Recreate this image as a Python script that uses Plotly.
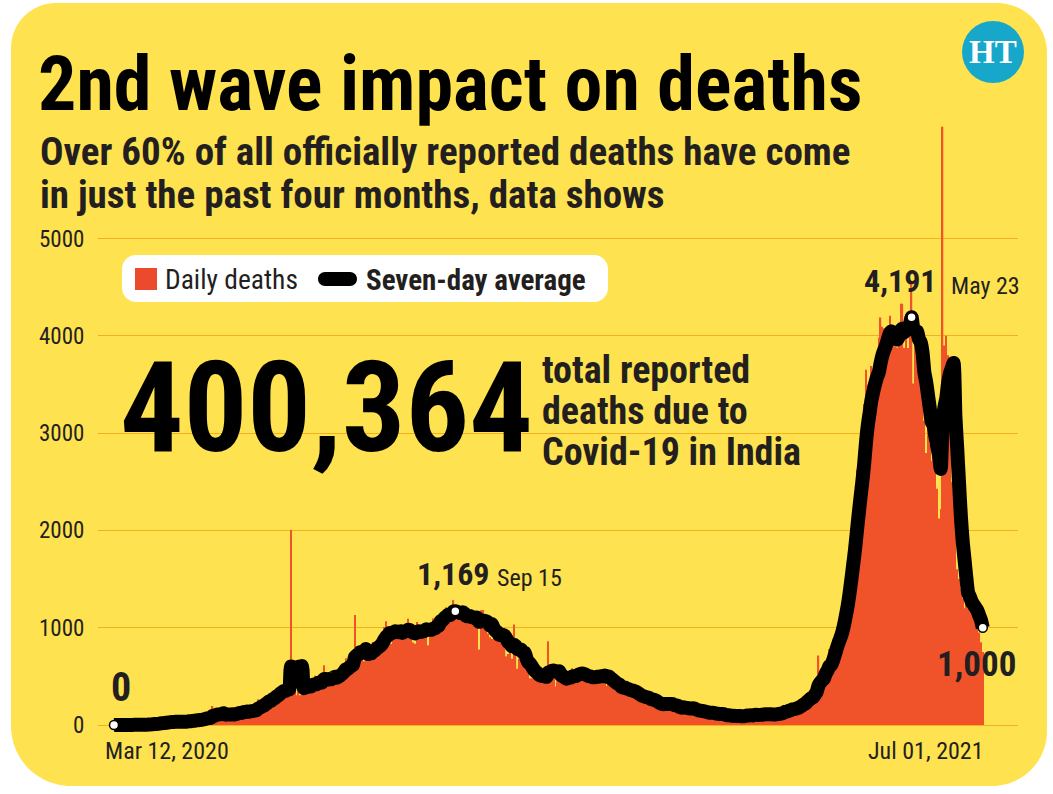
import pandas as pd
import plotly.graph_objects as go

W, H = 1053, 794

# ---------------- data (daily reported deaths, India) ----------------
START_DATE = "2020-03-12"
deaths_2020_03 = [0, 1, 1, 0, 0, 1, 0, 1, 1, 1, 3, 2, 1, 2, 3, 4, 6, 4, 4, 8]
deaths_2020_04 = [12, 15, 16, 13, 17, 24, 27, 20, 33, 32, 33, 40, 35, 31, 26, 38, 23, 43, 36, 31,
                  47, 56, 41, 37, 57, 60, 46, 60, 66, 73]
deaths_2020_05 = [72, 93, 83, 68, 195, 89, 126, 103, 95, 128, 111, 97, 87, 134, 100, 120, 103, 157, 120, 134,
                  140, 148, 132, 137, 147, 154, 146, 170, 175, 265, 193]
deaths_2020_06 = [230, 204, 259, 260, 290, 300, 310, 300, 320, 340, 380, 396, 386, 325, 380, 343, 2003, 336, 375, 306,
                  445, 306, 465, 418, 410, 384, 407, 380, 418, 507]
deaths_2020_07 = [434, 507, 379, 442, 613, 425, 467, 482, 475, 487, 519, 551, 500, 553, 582, 606, 687, 543, 681, 587,
                  648, 1130, 740, 757, 705, 708, 654, 775, 768, 779, 764]
deaths_2020_08 = [853, 771, 803, 857, 886, 933, 1007, 1065, 871, 1007, 834, 942, 1007, 997, 1013, 944, 876, 941, 977, 1092,
                  983, 912, 848, 836, 1059, 1023, 1021, 1022, 948, 971, 819]
deaths_2020_09 = [1045, 1025, 1096, 1065, 1089, 1016, 1133, 1115, 1172, 1209, 1197, 1054, 1136, 1283, 1132, 1132, 1168, 1130, 1133, 1053,
                  1085, 1129, 1141, 1089, 1124, 1039, 1124, 776, 1179, 1181]
deaths_2020_10 = [1069, 1095, 940, 903, 884, 906, 986, 971, 895, 925, 918, 816, 706, 730, 895, 680, 1033, 837, 579, 680,
                  720, 700, 660, 610, 560, 480, 480, 517, 543, 551, 470]
deaths_2020_11 = [496, 470, 449, 490, 860, 577, 559, 514, 395, 448, 512, 547, 554, 435, 435, 447, 474, 584, 576, 562,
                  511, 501, 491, 480, 524, 518, 485, 496, 443, 482]
deaths_2020_12 = [501, 540, 526, 524, 501, 482, 402, 512, 442, 411, 416, 387, 391, 336, 355, 387, 415, 347, 342, 334,
                  301, 313, 336, 333, 264, 251, 279, 251, 286, 299, 256]
deaths_2021_01 = [217, 224, 212, 170, 201, 251, 220, 228, 234, 212, 161, 201, 175, 202, 188, 145, 162, 202, 175, 151,
                  181, 162, 163, 152, 131, 127, 123, 153, 151, 120, 127]
deaths_2021_02 = [94, 107, 137, 124, 108, 119, 106, 84, 101, 88, 94, 107, 100, 81, 87, 94, 88, 97, 78, 101,
                  118, 103, 102, 101, 87, 113, 113, 106]
deaths_2021_03 = [106, 111, 118, 107, 117, 113, 97, 99, 108, 131, 126, 134, 138, 157, 161, 131, 188, 172, 188, 154,
                  197, 199, 212, 275, 257, 271, 291, 312, 312, 271, 459]
deaths_2021_04 = [469, 714, 513, 478, 446, 630, 685, 780, 794, 839, 904, 879, 1027, 1038, 1185, 1341, 1501, 1619, 1761, 2023,
                  2104, 2263, 2624, 2767, 2812, 2900, 3300, 3650, 3498, 3523]
deaths_2021_05 = [3689, 3417, 3449, 3780, 3980, 4187, 4092, 4077, 3754, 3876, 4205, 4120, 4000, 3890, 3880, 3960, 4329, 4329, 3874, 4209,
                  3874, 4194, 4528, 3511, 4157, 3847, 3660, 3620, 3460, 3128, 2795]
deaths_2021_06 = [3207, 2887, 2713, 3380, 2677, 2427, 2123, 2219, 6148, 3900, 4000, 3800, 3100, 2500, 2600, 2300, 1600, 1500, 1400, 1300,
                  1200, 1300, 1200, 1300, 1150, 1200, 1100, 1000, 950, 850]
deaths_2021_07 = [750]

Y_TICKS = [0, 1000, 2000, 3000, 4000, 5000]
HIGHLIGHT_DATES = ["2020-03-12", "2020-09-15", "2021-05-23", "2021-07-01"]
TITLE = "2nd wave impact on deaths"
SUBTITLE_1 = "Over 60% of all officially reported deaths have come"
SUBTITLE_2 = "in just the past four months, data shows"
TOTAL = "400,364"
TOTAL_TEXT = ["total reported", "deaths due to", "Covid-19 in India"]

# ---------------- derived ----------------
daily = (deaths_2020_03 + deaths_2020_04 + deaths_2020_05 + deaths_2020_06 + deaths_2020_07 +
         deaths_2020_08 + deaths_2020_09 + deaths_2020_10 + deaths_2020_11 + deaths_2020_12 +
         deaths_2021_01 + deaths_2021_02 + deaths_2021_03 + deaths_2021_04 + deaths_2021_05 +
         deaths_2021_06 + deaths_2021_07)
dates = pd.date_range(START_DATE, periods=len(daily), freq="D")
series = pd.Series(daily, index=dates)
avg7 = series.rolling(7, min_periods=1).mean()
hl = pd.to_datetime(HIGHLIGHT_DATES)
hl_vals = avg7.loc[hl].values

# ---------------- style ----------------
YELLOW = "#FEE24F"
BAR = "#F0532A"
GRID = "#F5B01E"
INK = "#231F20"
COND = "Roboto Condensed, Open Sans Condensed, sans-serif"


def px(x):
    return x / W


def py(y):
    return 1 - y / H


def rrect(x0, y0, x1, y1, rtl, rtr, rbr, rbl):
    k = 0.5523
    p = []
    p.append(f"M {px(x0 + rtl)},{py(y0)}")
    p.append(f"L {px(x1 - rtr)},{py(y0)}")
    p.append(f"C {px(x1 - rtr + k * rtr)},{py(y0)} {px(x1)},{py(y0 + rtr - k * rtr)} {px(x1)},{py(y0 + rtr)}")
    p.append(f"L {px(x1)},{py(y1 - rbr)}")
    p.append(f"C {px(x1)},{py(y1 - rbr + k * rbr)} {px(x1 - rbr + k * rbr)},{py(y1)} {px(x1 - rbr)},{py(y1)}")
    p.append(f"L {px(x0 + rbl)},{py(y1)}")
    p.append(f"C {px(x0 + rbl - k * rbl)},{py(y1)} {px(x0)},{py(y1 - rbl + k * rbl)} {px(x0)},{py(y1 - rbl)}")
    p.append(f"L {px(x0)},{py(y0 + rtl)}")
    p.append(f"C {px(x0)},{py(y0 + rtl - k * rtl)} {px(x0 + rtl - k * rtl)},{py(y0)} {px(x0 + rtl)},{py(y0)}")
    p.append("Z")
    return " ".join(p)


fig = go.Figure()
fig.add_trace(go.Bar(x=dates, y=daily, marker=dict(color=BAR, line=dict(width=0)),
                     name="Daily deaths", showlegend=False, hoverinfo="x+y"))
fig.add_trace(go.Scatter(x=dates, y=avg7, mode="lines", name="Seven-day average",
                         line=dict(color="black", width=14, shape="spline", smoothing=0.6),
                         showlegend=False))
fig.add_trace(go.Scatter(x=hl, y=hl_vals, mode="markers", showlegend=False,
                         marker=dict(size=9, color="white", line=dict(color="black", width=1.5))))

x_left = pd.Timestamp(START_DATE) - pd.Timedelta(days=8.77)
x_right = pd.Timestamp(START_DATE) + pd.Timedelta(days=495.3)

shapes = [
    dict(type="path", xref="paper", yref="paper", path=rrect(11, 3, 1047, 786, 45, 50, 55, 60),
         fillcolor=YELLOW, line=dict(width=0), layer="below"),
    dict(type="circle", xref="paper", yref="paper", x0=px(962), x1=px(1024), y0=py(83), y1=py(21),
         fillcolor="#17A7CB", line=dict(width=0), layer="above"),
    dict(type="path", xref="paper", yref="paper", path=rrect(122, 255, 608, 302, 14, 14, 14, 14),
         fillcolor="white", line=dict(width=0), layer="above"),
    dict(type="rect", xref="paper", yref="paper", x0=px(135), x1=px(157), y0=py(290), y1=py(268),
         fillcolor="#EB4A2C", line=dict(width=0), layer="above"),
    dict(type="path", xref="paper", yref="paper", path=rrect(318, 272, 357, 286, 7, 7, 7, 7),
         fillcolor="black", line=dict(width=0), layer="above"),
]


def ann(text, x, y, size, bold=False, xanchor="left", yanchor="middle", color=INK, family=COND, **kw):
    t = f"<b>{text}</b>" if bold else text
    return dict(text=t, x=x, y=y, xref="paper", yref="paper", xanchor=xanchor, yanchor=yanchor,
                showarrow=False, font=dict(family=family, size=size, color=color), **kw)


def dann(text, x, y, size, bold, xanchor, yanchor, xshift, yshift):
    t = f"<b>{text}</b>" if bold else text
    return dict(text=t, x=x, y=y, xref="x", yref="y", xanchor=xanchor, yanchor=yanchor,
                xshift=xshift, yshift=yshift, showarrow=False,
                font=dict(family=COND, size=size, color=INK))


annotations = [
    ann(TITLE, px(36), py(84), 76, bold=True, color="#000000"),
    ann(SUBTITLE_1, px(38), py(152), 39, bold=True),
    ann(SUBTITLE_2, px(38), py(195), 39, bold=True),
    ann("HT", px(993), py(52), 33, bold=True, xanchor="center", color="white",
        family="Liberation Serif, DejaVu Serif, serif"),
    ann("Daily deaths", px(163), py(280), 27.5),
    ann("Seven-day average", px(364), py(280), 29, bold=True),
    ann(TOTAL, px(118), py(408), 126, bold=True, color="#000000"),
    ann(TOTAL_TEXT[0], px(540), py(370), 38, bold=True),
    ann(TOTAL_TEXT[1], px(540), py(411), 38, bold=True),
    ann(TOTAL_TEXT[2], px(540), py(452), 38, bold=True),
    dann("0", hl[0], hl_vals[0], 40, True, "left", "bottom", -5, 12),
    dann("1,169", hl[1], hl_vals[1], 32, True, "right", "bottom", 37, 16),
    dann("Sep 15", hl[1], hl_vals[1], 24, False, "left", "bottom", 40, 17),
    dann("4,191", hl[2], hl_vals[2], 32, True, "right", "bottom", 27, 15),
    dann("May 23", hl[2], hl_vals[2], 24, False, "left", "bottom", 37, 15),
    dann("1,000", hl[3], hl_vals[3], 35, True, "center", "top", -6, -14),
    dann("Mar 12, 2020", hl[0], 0, 24, False, "left", "top", -11, -10),
    dann("Jul 01, 2021", hl[3], 0, 24, False, "right", "top", 3, -10),
]

fig.update_layout(
    width=W, height=H, margin=dict(l=0, r=0, t=0, b=0),
    paper_bgcolor="white", plot_bgcolor="rgba(0,0,0,0)",
    bargap=0.3, showlegend=False,
    xaxis=dict(domain=[px(98), px(1018)], range=[x_left, x_right], type="date",
               showgrid=False, zeroline=False, showticklabels=False, showline=False, ticks=""),
    yaxis=dict(domain=[py(740), py(110)], range=[-154.2, 6320.7],
               tickvals=Y_TICKS, ticktext=[str(v) for v in Y_TICKS],
               showgrid=True, gridcolor=GRID, gridwidth=1, zeroline=False, showline=False,
               ticks="outside", ticklen=8, tickcolor="rgba(0,0,0,0)",
               tickfont=dict(family=COND, size=23, color=INK)),
    shapes=shapes, annotations=annotations,
)

fig.write_html("out.html")
